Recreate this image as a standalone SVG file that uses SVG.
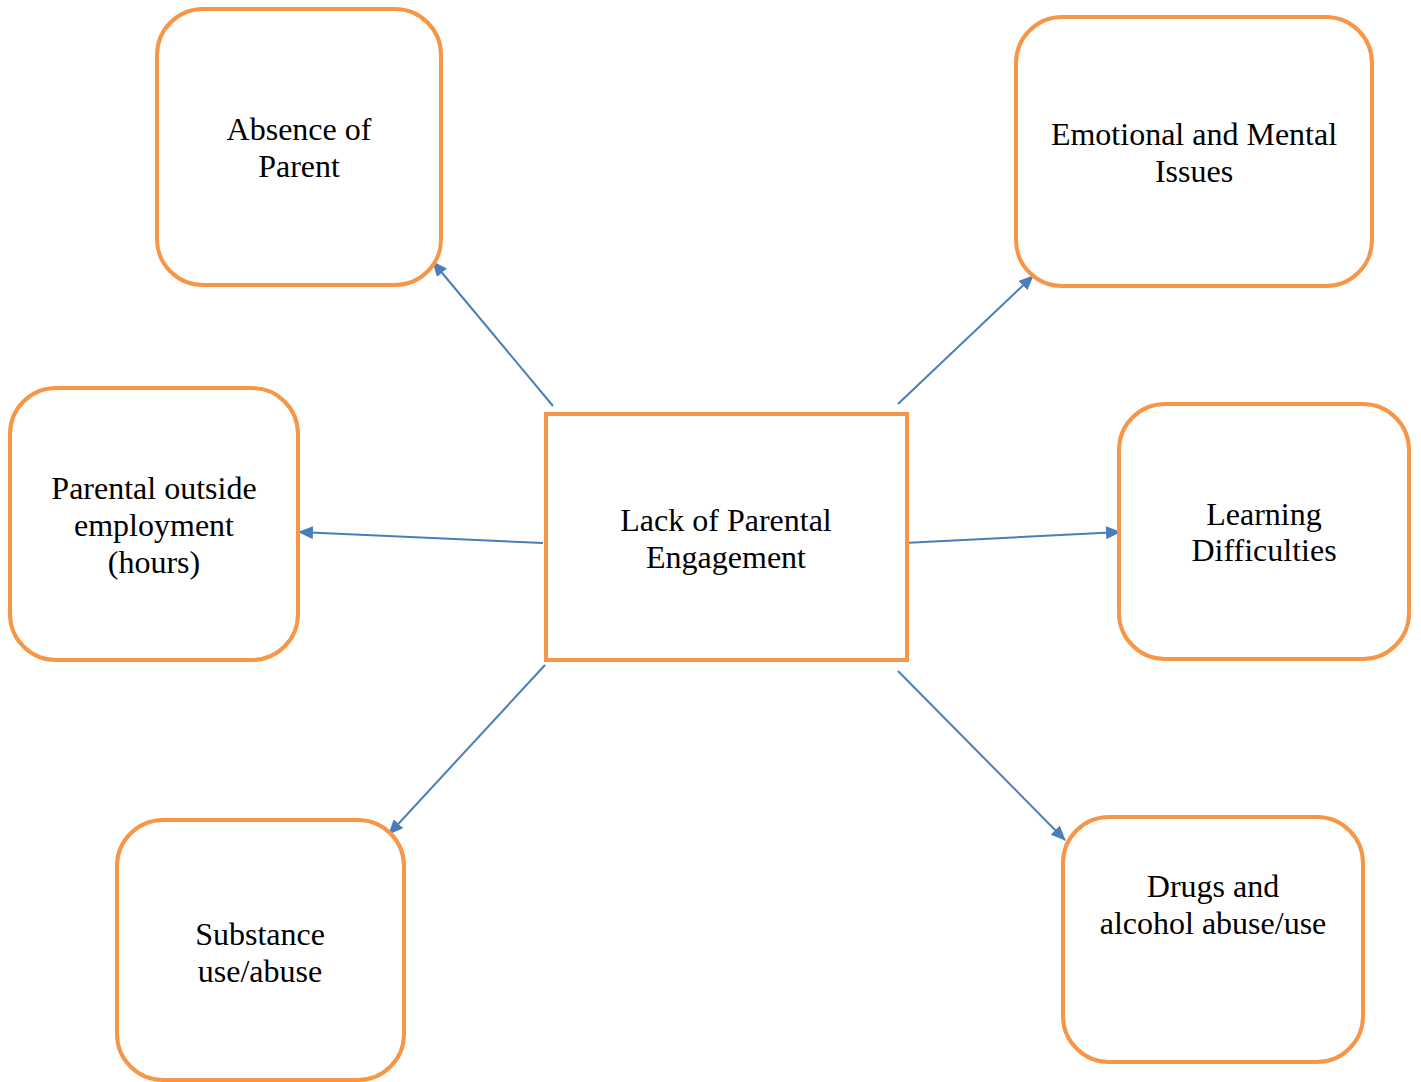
<svg xmlns="http://www.w3.org/2000/svg" width="1421" height="1082" viewBox="0 0 1421 1082">
<style>
.box{fill:#fff;stroke:#F79646;stroke-width:4}
.lbl{font-family:"Liberation Serif","Times New Roman",serif;font-size:32px;fill:#000;text-anchor:middle}
.con{stroke:#4A7EBB;stroke-width:2;fill:none;marker-end:url(#ah)}
</style>
<defs>
<marker id="ah" markerUnits="userSpaceOnUse" markerWidth="15" markerHeight="13" refX="14" refY="6.5" orient="auto">
<path d="M0,0 L15,6.5 L0,13 Z" fill="#4A7EBB"/>
</marker>
</defs>
<rect width="1421" height="1082" fill="#fff"/>
<g id="connectors">
<line class="con" x1="553" y1="406" x2="433" y2="262"/>
<line class="con" x1="898" y1="404" x2="1033" y2="276"/>
<line class="con" x1="543" y1="543" x2="299" y2="532"/>
<line class="con" x1="904" y1="543" x2="1120" y2="532"/>
<line class="con" x1="545" y1="665" x2="389" y2="834"/>
<line class="con" x1="898" y1="671" x2="1065" y2="840"/>
</g>
<g id="absence">
<rect class="box" x="157" y="9" width="284" height="276" rx="46"/>
<text class="lbl" x="299" y="140">Absence of</text>
<text class="lbl" x="299" y="177">Parent</text>
</g>
<g id="emotional">
<rect class="box" x="1016" y="17" width="356" height="269" rx="46"/>
<text class="lbl" x="1194" y="145">Emotional and Mental</text>
<text class="lbl" x="1194" y="182">Issues</text>
</g>
<g id="parental">
<rect class="box" x="10" y="388" width="288" height="272" rx="46"/>
<text class="lbl" x="154" y="499">Parental outside</text>
<text class="lbl" x="154" y="536">employment</text>
<text class="lbl" x="154" y="573">(hours)</text>
</g>
<g id="center">
<rect class="box" x="546" y="414" width="361" height="246"/>
<text class="lbl" x="726" y="531">Lack of Parental</text>
<text class="lbl" x="726" y="568">Engagement</text>
</g>
<g id="learning">
<rect class="box" x="1119" y="404" width="290" height="255" rx="46"/>
<text class="lbl" x="1264" y="525">Learning</text>
<text class="lbl" x="1264" y="561">Difficulties</text>
</g>
<g id="substance">
<rect class="box" x="117" y="820" width="287" height="260" rx="46"/>
<text class="lbl" x="260" y="945">Substance</text>
<text class="lbl" x="260" y="982">use/abuse</text>
</g>
<g id="drugs">
<rect class="box" x="1063" y="817" width="300" height="245" rx="46"/>
<text class="lbl" x="1213" y="897">Drugs and</text>
<text class="lbl" x="1213" y="934">alcohol abuse/use</text>
</g>
</svg>
